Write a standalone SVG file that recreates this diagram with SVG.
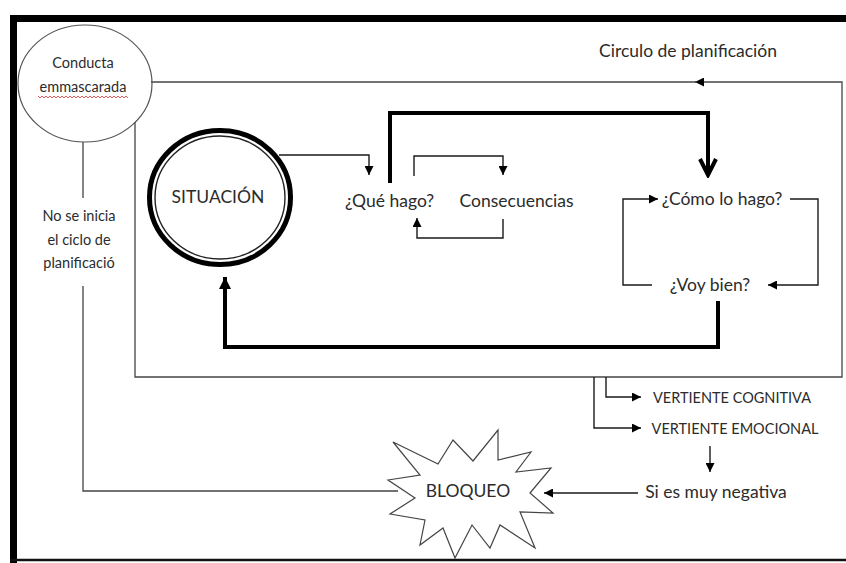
<svg xmlns="http://www.w3.org/2000/svg" width="846" height="563" viewBox="0 0 846 563">
<style>
.t{font-family:Lato,"Liberation Sans",sans-serif;fill:#2b2b2b;text-anchor:middle}
.big{font-size:17.5px}
.mid{font-size:15px}
.cap{font-size:14.5px}
.thin{fill:none;stroke:#1a1a1a;stroke-width:1.4}
.gray{fill:none;stroke:#444;stroke-width:1.3}
.thick{fill:none;stroke:#000;stroke-width:4}
</style>
<defs>
<marker id="ah" viewBox="0 0 10 10" refX="10" refY="5" markerWidth="9" markerHeight="9" markerUnits="userSpaceOnUse" orient="auto">
<path d="M0,0 L10,5 L0,10 z" fill="#000"/>
</marker>
<marker id="ahBig" viewBox="0 0 10 10" refX="10" refY="5" markerWidth="13" markerHeight="12" markerUnits="userSpaceOnUse" orient="auto">
<path d="M0,0 L10,5 L0,10 z" fill="#000"/>
</marker>
<marker id="chev" viewBox="0 0 20 20" refX="17" refY="10" markerWidth="20" markerHeight="20" markerUnits="userSpaceOnUse" orient="auto">
<path d="M1,2 L17,10 L1,18" fill="none" stroke="#000" stroke-width="4" stroke-linejoin="miter"/>
</marker>
</defs>
<rect width="846" height="563" fill="#fff"/>
<g id="frame">
<path d="M13.5,563 V18.5 H846" fill="none" stroke="#000" stroke-width="7"/>
<line x1="10" y1="560" x2="846" y2="560" stroke="#111" stroke-width="2.5"/>
</g>
<g id="connectors">
<path class="gray" d="M135,122 V377 H842 V82 H695" marker-end="url(#ah)"/>
<path class="gray" d="M697,82 H151"/>
<path class="gray" d="M83,142 V198 M83,286 V491 H398"/>
<path class="thin" d="M279,155 H369 V175" marker-end="url(#ah)"/>
<path class="thick" d="M390,183 V113 H708 V175" marker-end="url(#chev)"/>
<path class="thin" d="M414,176 V156 H503 V175" marker-end="url(#ah)"/>
<path class="thin" d="M503,219 V238 H417 V218" marker-end="url(#ah)"/>
<path class="thin" d="M652,285 H623 V199 H658" marker-end="url(#ah)"/>
<path class="thin" d="M790,199 H818 V285 H768" marker-end="url(#ah)"/>
<path class="thick" d="M718,301 V347 H225 V277" marker-end="url(#ahBig)"/>
<path class="thin" d="M606,377 V397 H641" marker-end="url(#ah)"/>
<path class="thin" d="M594,377 V428 H641" marker-end="url(#ah)"/>
<path class="thin" d="M710,446 V472" marker-end="url(#ah)"/>
<path class="thin" d="M638,493 H544" marker-end="url(#ah)"/>
</g>
<g id="conducta">
<ellipse cx="85" cy="83.5" rx="67" ry="58.5" fill="none" stroke="#555" stroke-width="1.2"/>
<text class="t cap" x="83" y="68">Conducta</text>
<text class="t cap" x="83" y="92">emmascarada</text>
<path d="M38,96 l2,2 l2,-2 l2,2 l2,-2 l2,2 l2,-2 l2,2 l2,-2 l2,2 l2,-2 l2,2 l2,-2 l2,2 l2,-2 l2,2 l2,-2 l2,2 l2,-2 l2,2 l2,-2 l2,2 l2,-2 l2,2 l2,-2 l2,2 l2,-2 l2,2 l2,-2 l2,2 l2,-2 l2,2 l2,-2 l2,2 l2,-2 l2,2 l2,-2 l2,2 l2,-2 l2,2 l2,-2 l2,2 l2,-2 l2,2 l2,-2 l2,2" fill="none" stroke="#d33" stroke-width="0.8"/>
</g>
<g id="circulo-label">
<text class="t big" x="688" y="57">Circulo de planificación</text>
</g>
<g id="no-inicia-label">
<text class="t cap" x="79" y="221">No se inicia</text>
<text class="t cap" x="79" y="245">el ciclo de</text>
<text class="t cap" x="79" y="268">planificació</text>
</g>
<g id="situacion">
<ellipse cx="220" cy="197.5" rx="70.5" ry="67" fill="#fff" stroke="#000" stroke-width="5"/>
<ellipse cx="220" cy="197.5" rx="65" ry="61.5" fill="none" stroke="#222" stroke-width="1.4"/>
<text class="t big" x="218" y="203">SITUACIÓN</text>
</g>
<g id="que-hago"><text class="t big" x="389.5" y="207">¿Qué hago?</text></g>
<g id="consecuencias"><text class="t big" x="516.5" y="207">Consecuencias</text></g>
<g id="como-lo-hago"><text class="t big" x="722" y="205">¿Cómo lo hago?</text></g>
<g id="voy-bien"><text class="t big" x="710" y="291">¿Voy bien?</text></g>
<g id="vertiente-cognitiva"><text class="t cap" x="732" y="403">VERTIENTE COGNITIVA</text></g>
<g id="vertiente-emocional"><text class="t cap" x="735" y="434">VERTIENTE EMOCIONAL</text></g>
<g id="si-es-muy-negativa"><text class="t big" x="716" y="498">Si es muy negativa</text></g>
<g id="bloqueo">
<polygon points="393,442 438,464 453,440 473,461 498,430 498,460 531,452 516,472 551,468 530,493 553,513 520,512 535,548 500,525 490,548 472,525 455,558 443,528 420,545 425,520 390,514 415,498 388,480 420,475" fill="#fff" stroke="#444" stroke-width="1.2" stroke-linejoin="miter"/>
<text class="t big" x="468" y="497">BLOQUEO</text>
</g>
</svg>
